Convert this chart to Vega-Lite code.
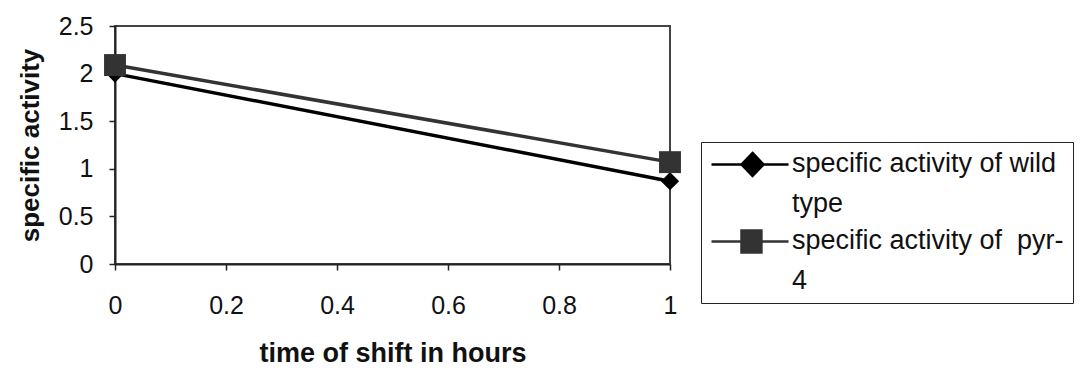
{
  "$schema": "https://vega.github.io/schema/vega-lite/v6.json",
  "width": 555,
  "height": 238,
  "autosize": {"type": "none"},
  "padding": {"left": 115, "top": 26, "right": 412, "bottom": 107},
  "background": "white",
  "config": {
    "font": "Liberation Sans",
    "view": {"stroke": "#444", "strokeWidth": 2}
  },
  "data": {
    "values": [
      {"time": 0, "activity": 2.0, "series": "specific activity of wild type"},
      {"time": 1, "activity": 0.87, "series": "specific activity of wild type"},
      {"time": 0, "activity": 2.09, "series": "specific activity of  pyr-4"},
      {"time": 1, "activity": 1.07, "series": "specific activity of  pyr-4"}
    ]
  },
  "encoding": {
    "x": {
      "field": "time",
      "type": "quantitative",
      "scale": {"domain": [0, 1], "nice": false},
      "axis": {"values": [0, 0.2, 0.4, 0.6, 0.8, 1], "format": "~g", "title": "time of shift in hours", "grid": false, "tickSize": 6, "tickColor": "#222", "tickWidth": 1.5, "domainColor": "#222", "domainWidth": 2, "labelFont": "Liberation Sans", "labelFontSize": 25, "labelColor": "#111", "labelPadding": 23, "labelFlush": false, "titleFont": "Liberation Sans", "titleFontSize": 27, "titleFontWeight": "bold", "titleColor": "#111", "titlePadding": 22}
    },
    "y": {
      "field": "activity",
      "type": "quantitative",
      "scale": {"domain": [0, 2.5], "nice": false},
      "axis": {"values": [0, 0.5, 1, 1.5, 2, 2.5], "format": "~g", "title": "specific activity", "grid": false, "tickSize": 6, "tickColor": "#222", "tickWidth": 1.5, "domainColor": "#222", "domainWidth": 2, "labelFont": "Liberation Sans", "labelFontSize": 25, "labelColor": "#111", "labelPadding": 16, "labelFlush": false, "titleFont": "Liberation Sans", "titleFontSize": 26, "titleFontWeight": "bold", "titleColor": "#111", "titlePadding": 15}
    }
  },
  "layer": [
    {
      "mark": {"type": "line", "strokeWidth": 3.5},
      "encoding": {
        "color": {
          "field": "series",
          "type": "nominal",
          "sort": ["specific activity of wild type", "specific activity of  pyr-4"],
          "scale": {"domain": ["specific activity of wild type", "specific activity of  pyr-4"], "range": ["#000000", "#333333"]},
          "legend": {
            "title": null,
            "orient": "none",
            "legendX": 586,
            "legendY": 116,
            "direction": "vertical",
            "strokeColor": "#222",
            "padding": 9,
            "symbolSize": 576,
            "symbolStrokeWidth": 2.5,
            "labelFont": "Liberation Sans",
            "labelFontSize": 27,
            "labelColor": "#111",
            "labelLimit": 400,
            "labelOffset": 55,
            "rowPadding": 8,
            "labelExpr": "indexof(datum.label, 'wild') >= 0 ? ['specific activity of wild', 'type'] : ['specific activity of \u00a0pyr-', '4']",
            "encode": {
              "symbols": {
                "update": {
                  "shape": {"signal": "indexof(datum.value, 'wild') >= 0 ? 'M-1,0L5.42,0M2.42,-0.96L3.34,0L2.42,0.96L1.5,0Z' : 'M-1,0L5.42,0M1.5,-0.92L3.16,-0.92L3.16,0.92L1.5,0.92Z'"},
                  "fill": {"signal": "indexof(datum.value, 'wild') >= 0 ? '#000' : '#333'"},
                  "stroke": {"signal": "indexof(datum.value, 'wild') >= 0 ? '#000' : '#333'"},
                  "strokeWidth": {"value": 2.5},
                  "opacity": {"value": 1}
                }
              },
              "labels": {
                "update": {
                  "lineHeight": {"value": 40},
                  "baseline": {"value": "top"},
                  "dy": {"value": -14}
                }
              }
            }
          }
        }
      }
    },
    {
      "transform": [{"filter": "indexof(datum.series, 'wild') >= 0"}],
      "mark": {"type": "point", "filled": true, "opacity": 1, "shape": "diamond", "size": 330, "color": "#000000"}
    },
    {
      "transform": [{"filter": "indexof(datum.series, 'pyr') >= 0"}],
      "mark": {"type": "point", "filled": true, "opacity": 1, "shape": "square", "size": 480, "color": "#333333"}
    }
  ]
}
